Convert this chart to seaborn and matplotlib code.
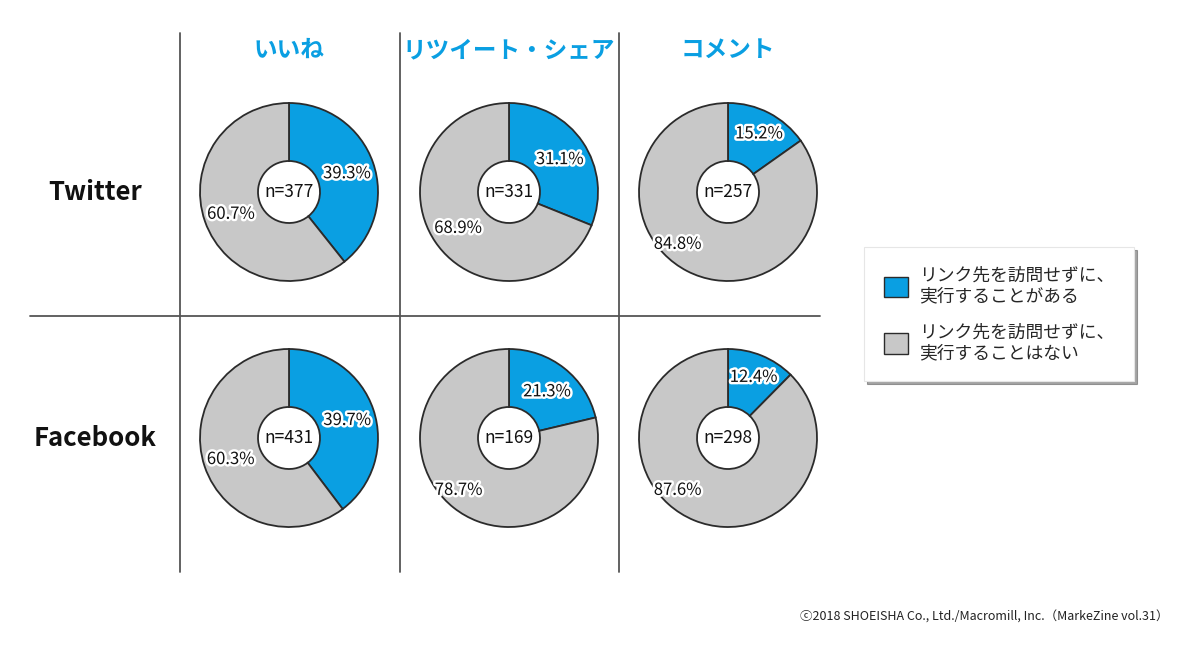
import numpy as np
import seaborn as sns
import matplotlib.pyplot as plt
import matplotlib.patheffects as pe
from matplotlib.patches import Patch

# data
columns = ["いいね", "リツイート・シェア", "コメント"]
rows = ["Twitter", "Facebook"]
pct_yes = [[39.3, 31.1, 15.2], [39.7, 21.3, 12.4]]
pct_no = [[60.7, 68.9, 84.8], [60.3, 78.7, 87.6]]
n_resp = [[377, 331, 257], [431, 169, 298]]
legend_labels = ["リンク先を訪問せずに、\n実行することがある",
                 "リンク先を訪問せずに、\n実行することはない"]
credit = "ⓒ2018 SHOEISHA Co., Ltd./Macromill, Inc.（MarkeZine vol.31）"

sns.set_theme(style="white")
plt.rcParams['font.family'] = ['Noto Sans CJK JP', 'DejaVu Sans']

BLUE = "#0a9fe2"
GRAY = "#c8c8c8"
EDGE = "#2b2b2b"
W, H = 1200, 647

# layout (pixel positions, y from top)
col_x = [289, 509, 728]
row_y = [192, 438]
R_OUT, R_IN = 89, 31

fig = plt.figure(figsize=(12, 6.47), dpi=100)
ax = fig.add_axes([0, 0, 1, 1])

halo = [pe.withStroke(linewidth=3.5, foreground="white")]


def label_pos(wedge, cx, cy, big):
    # angle measured clockwise from 12 o'clock
    mid = (wedge.theta1 + wedge.theta2) / 2
    a = (90 - mid) % 360
    d = 0.69
    if big and a < 225:
        a, d = 225, 0.8
    elif not big and wedge.theta2 - wedge.theta1 < 72:
        d = 0.76
    r = np.radians(a)
    return cx + d * R_OUT * np.sin(r), cy + d * R_OUT * np.cos(r)


for i, row in enumerate(rows):
    for j, col in enumerate(columns):
        cx, cy = col_x[j], H - row_y[i]
        vals = [pct_yes[i][j], pct_no[i][j]]
        wedges, _ = ax.pie(
            vals, colors=[BLUE, GRAY], startangle=90, counterclock=False,
            center=(cx, cy), radius=R_OUT,
            wedgeprops=dict(width=R_OUT - R_IN, edgecolor=EDGE, linewidth=1.3))
        for k, (w, v) in enumerate(zip(wedges, vals)):
            x, y = label_pos(w, cx, cy, big=(k == 1))
            ax.text(x, y - 2, f"{v:.1f}%", ha="center", va="center",
                    fontsize=12, color="#111111", path_effects=halo)
        ax.text(cx, cy, f"n={n_resp[i][j]}", ha="center", va="center",
                fontsize=12.5, color="#111111")

# column headers / row labels
for j, col in enumerate(columns):
    ax.text(col_x[j], H - 50, col, ha="center", va="center",
            fontsize=17, fontweight="bold", color=BLUE)
for i, row in enumerate(rows):
    ax.text(95, H - row_y[i], row, ha="center", va="center",
            fontsize=18.5, fontweight="bold", color="#111111")

# grid lines
for x in [180, 400, 619]:
    ax.plot([x, x], [H - 33, H - 572], color="#555555", lw=1.3)
ax.plot([30, 820], [H - 316, H - 316], color="#555555", lw=1.3)

ax.set_xlim(0, W)
ax.set_ylim(0, H)
ax.set_aspect("equal")
ax.axis("off")

handles = [Patch(facecolor=BLUE, edgecolor=EDGE, linewidth=1),
           Patch(facecolor=GRAY, edgecolor=EDGE, linewidth=1)]
leg = fig.legend(handles, legend_labels, loc="upper left",
                 bbox_to_anchor=(864 / W, 1 - 247 / H),
                 frameon=True, fancybox=False, shadow=True,
                 fontsize=12.8, handlelength=1.4, handleheight=1.4,
                 borderpad=1.1, labelspacing=1.0, handletextpad=0.6,
                 borderaxespad=0)
leg.get_frame().set_edgecolor("#e6e6e6")
leg.get_frame().set_linewidth(0.8)

fig.text(1168 / W, 1 - 617 / H, credit, ha="right", va="center",
         fontsize=9, color="#222222")

fig.savefig("out.png", dpi=100, facecolor="white")
